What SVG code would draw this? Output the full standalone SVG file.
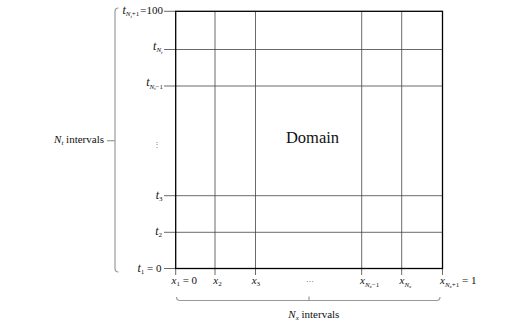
<svg xmlns="http://www.w3.org/2000/svg" width="524" height="330" viewBox="0 0 524 330">
<style>
text{font-family:"Liberation Serif","Times New Roman",serif;fill:#111;font-size:11px}
.i{font-style:italic}
.grid{stroke:#444;stroke-width:0.8;fill:none}
.frame{stroke:#000;stroke-width:1.3;fill:none}
.brace{stroke:#999;stroke-width:1.2;fill:none}
</style>
<rect width="524" height="330" fill="#fff"/>
<g id="domain">
<g class="grid">
<line x1="164" y1="49.5" x2="442.5" y2="49.5"/>
<line x1="164" y1="86" x2="442.5" y2="86"/>
<line x1="164" y1="195.7" x2="442.5" y2="195.7"/>
<line x1="164" y1="232.3" x2="442.5" y2="232.3"/>
<line x1="215" y1="11.3" x2="215" y2="275"/>
<line x1="255.5" y1="11.3" x2="255.5" y2="275"/>
<line x1="361.7" y1="11.3" x2="361.7" y2="275"/>
<line x1="401.7" y1="11.3" x2="401.7" y2="275"/>
<line x1="164" y1="11.3" x2="176" y2="11.3"/>
<line x1="164" y1="268.5" x2="176" y2="268.5"/>
<line x1="175.7" y1="268.5" x2="175.7" y2="275"/>
<line x1="442.5" y1="268.5" x2="442.5" y2="275"/>
</g>
<rect class="frame" x="175.7" y="11.3" width="266.8" height="257.2"/>
<text x="312.5" y="142.7" text-anchor="middle" style="font-size:16.5px">Domain</text>
</g>
<g id="t-labels">
<text x="163" y="13.5" text-anchor="end"><tspan class="i" style="font-size:12px">t</tspan><tspan class="i" dy="2.5" style="font-size:7px">N</tspan><tspan class="i" dy="1.5" style="font-size:5px">t</tspan><tspan dy="-1.5" style="font-size:7px">+1</tspan><tspan dy="-2.5" dx="1">=100</tspan></text>
<text x="162.5" y="49.5" text-anchor="end"><tspan class="i" style="font-size:12px">t</tspan><tspan class="i" dy="2.5" style="font-size:7px">N</tspan><tspan class="i" dy="1.5" style="font-size:5px">t</tspan></text>
<text x="163" y="86" text-anchor="end"><tspan class="i" style="font-size:12px">t</tspan><tspan class="i" dy="2.5" style="font-size:7px">N</tspan><tspan class="i" dy="1.5" style="font-size:5px">t</tspan><tspan dy="-1.5" style="font-size:7px">−1</tspan></text>
<text x="157" y="147" text-anchor="middle" style="font-family:'DejaVu Serif',serif;font-size:8px;fill:#777">⋮</text>
<text x="162.5" y="199" text-anchor="end"><tspan class="i" style="font-size:12px">t</tspan><tspan dy="2" style="font-size:7px">3</tspan></text>
<text x="162" y="235" text-anchor="end"><tspan class="i" style="font-size:12px">t</tspan><tspan dy="2" style="font-size:7px">2</tspan></text>
<text x="161.5" y="271.5" text-anchor="end"><tspan class="i" style="font-size:12px">t</tspan><tspan dy="2" style="font-size:7px">1</tspan><tspan dy="-2"> = 0</tspan></text>
</g>
<g id="x-labels">
<text x="171.5" y="284"><tspan class="i">x</tspan><tspan dy="2" style="font-size:7px">1</tspan><tspan dy="-2"> = 0</tspan></text>
<text x="213.3" y="284"><tspan class="i">x</tspan><tspan dy="2" style="font-size:7px">2</tspan></text>
<text x="251.7" y="284"><tspan class="i">x</tspan><tspan dy="2" style="font-size:7px">3</tspan></text>
<text x="309.5" y="284" text-anchor="middle" style="font-family:'DejaVu Serif',serif;font-size:8px;fill:#777">⋯</text>
<text x="360" y="284"><tspan class="i">x</tspan><tspan class="i" dy="2.5" style="font-size:7px">N</tspan><tspan class="i" dy="1.5" style="font-size:5px">x</tspan><tspan dy="-1.5" style="font-size:7px">−1</tspan></text>
<text x="399.5" y="284"><tspan class="i">x</tspan><tspan class="i" dy="2.5" style="font-size:7px">N</tspan><tspan class="i" dy="1.5" style="font-size:5px">x</tspan></text>
<text x="440" y="284"><tspan class="i">x</tspan><tspan class="i" dy="2.5" style="font-size:7px">N</tspan><tspan class="i" dy="1.5" style="font-size:5px">x</tspan><tspan dy="-1.5" style="font-size:7px">+1</tspan><tspan dy="-2.5"> = 1</tspan></text>
</g>
<g id="connectors">
<path class="brace" d="M118.5,8 Q115,8 115,11.5 L115,268.5 Q115,272 118.5,272"/>
<line class="brace" x1="107" y1="140.7" x2="115" y2="140.7"/>
<path class="brace" d="M176.5,297 Q176.5,300.5 180,300.5 L436.5,300.5 Q440,300.5 440,297"/>
<line class="brace" x1="309" y1="300.5" x2="309" y2="296.5"/>
</g>
<g id="nt-label">
<text x="104" y="143" text-anchor="end"><tspan class="i">N</tspan><tspan class="i" dy="2" style="font-size:7px">t</tspan><tspan dy="-2"> intervals</tspan></text>
</g>
<g id="nx-label">
<text x="288.3" y="318"><tspan class="i">N</tspan><tspan class="i" dy="2" style="font-size:7px">x</tspan><tspan dy="-2"> intervals</tspan></text>
</g>
</svg>
